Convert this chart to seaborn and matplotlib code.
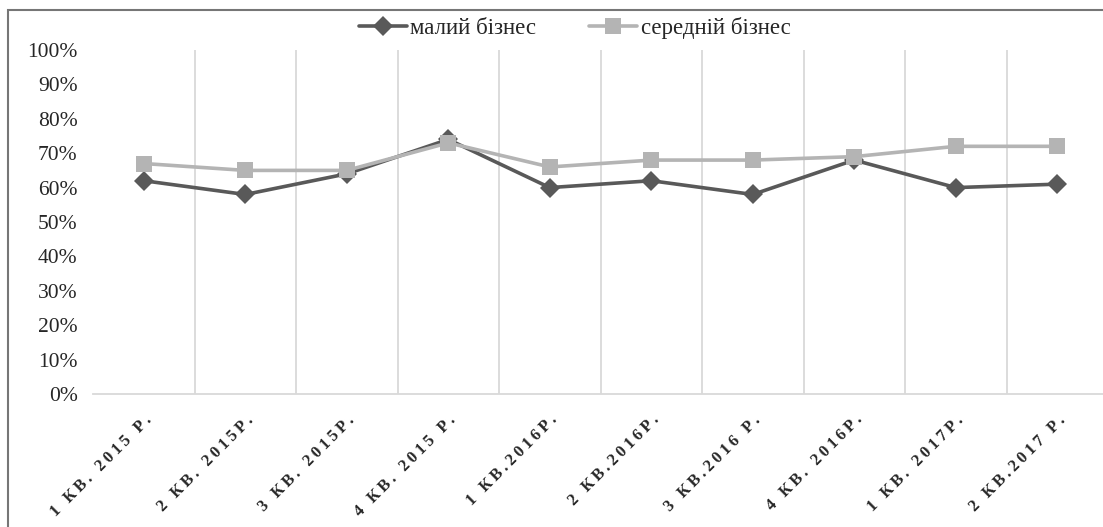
import pandas as pd
import seaborn as sns
import matplotlib.pyplot as plt
from matplotlib.patches import Rectangle
from matplotlib.ticker import PercentFormatter, MultipleLocator

quarters = ['1 КВ. 2015 Р.', '2 КВ. 2015Р.', '3 КВ. 2015Р.', '4 КВ. 2015 Р.', '1 КВ.2016Р.',
            '2 КВ.2016Р.', '3 КВ.2016 Р.', '4 КВ. 2016Р.', '1 КВ. 2017Р.', '2 КВ.2017 Р.']
small_biz = [62, 58, 64, 74, 60, 62, 58, 68, 60, 61]
medium_biz = [67, 65, 65, 73, 66, 68, 68, 69, 72, 72]
series_names = ['малий бізнес', 'середній бізнес']

df = pd.DataFrame({'quarter': quarters * 2,
                   'value': small_biz + medium_biz,
                   'series': [series_names[0]] * len(quarters) + [series_names[1]] * len(quarters)})

sns.set_style('white')
plt.rcParams['font.family'] = ['Liberation Serif', 'DejaVu Serif']

fig = plt.figure(figsize=(11.03, 5.27), dpi=100)
ax = fig.add_axes([93 / 1103, 1 - 394 / 527, 1015 / 1103, 344 / 527])

sns.lineplot(data=df, x='quarter', y='value', hue='series', style='series',
             palette={series_names[0]: '#595959', series_names[1]: '#b4b4b4'},
             markers={series_names[0]: 'D', series_names[1]: 's'},
             dashes=False, markersize=11, linewidth=2.6, markeredgewidth=0,
             sort=False, ax=ax, legend=False)
for ln, ms in zip(ax.lines, [10, 12]):
    ln.set_markersize(ms)
ax.lines[1].set_zorder(3)

ax.set_xlim(-0.5, len(quarters) - 0.5)
ax.set_ylim(0, 100)
ax.yaxis.set_major_locator(MultipleLocator(10))
ax.yaxis.set_major_formatter(PercentFormatter(decimals=0))
ax.set_xlabel('')
ax.set_ylabel('')

for k in range(1, len(quarters)):
    ax.axvline(k - 0.5, color='#d9d9d9', lw=1.3, zorder=0)

for s in ['left', 'right', 'top']:
    ax.spines[s].set_visible(False)
ax.spines['bottom'].set_color('#d9d9d9')
ax.spines['bottom'].set_linewidth(1.3)

ax.tick_params(axis='y', length=0, labelsize=15.5, pad=11)
ax.tick_params(axis='x', length=0, pad=13)
ax.set_xticks(range(len(quarters)))
# the reference labels are letter-spaced; thin spaces between characters imitate that
spaced = ['\u2009'.join(q) for q in quarters]
ax.set_xticklabels(spaced, rotation=45, ha='right', rotation_mode='anchor',
                   fontsize=12, fontweight='bold')

handles = [plt.Line2D([], [], color='#595959', lw=2.6, marker='D', markersize=10, markeredgewidth=0),
           plt.Line2D([], [], color='#b4b4b4', lw=2.6, marker='s', markersize=12, markeredgewidth=0)]
fig.legend(handles, series_names, loc='center', bbox_to_anchor=(0.521, 1 - 28 / 527), ncol=2,
           frameon=False, fontsize=16.5, handlelength=2.1, handletextpad=0.15, columnspacing=2.3)

fig.add_artist(Rectangle((8 / 1103, -0.1), 1.2, 0.1 + (1 - 10 / 527), transform=fig.transFigure,
                         fill=False, edgecolor='#767676', lw=1.5))

fig.savefig('out.png', dpi=100)
